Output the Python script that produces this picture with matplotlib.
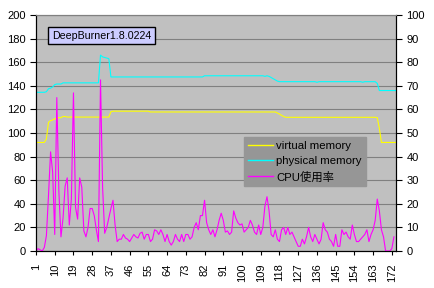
import numpy as np
import matplotlib
matplotlib.use("Agg")
import matplotlib.pyplot as plt
from matplotlib.lines import Line2D

plt.rcParams['font.family'] = ['Liberation Sans', 'Noto Sans CJK JP', 'DejaVu Sans']

# --- data ---
samples = np.arange(1, 175)

# virtual memory (left axis)
virtual_mem = ([92.0] * 5 + [95, 109, 110.5, 111, 112, 112.5, 113, 113, 114, 114]
               + [113.5] * 21 + [118] + [118.5] * 18 + [117.8] * 61
               + [117, 116, 115, 114] + [113.3] * 44 + [113, 104] + [92.0] * 8)

# physical memory (left axis)
physical_mem = ([134.5] * 5 + [135, 137.5, 138, 139, 141, 141.5, 141.5, 141.5]
                + [142.5] * 18 + [166, 164.5, 164, 163.5, 163]
                + [147.5] * 45 + [148.5] * 29 + [148, 148.5]
                + [148, 147, 146, 145, 144, 143.5, 143.5]
                + [143.5] * 16 + [143] + [143.5] * 21 + [143] + [143.5] * 6
                + [142] + [136.0] * 9)

# CPU usage % (right axis)
cpu = [0, 1, 0.5, 0, 1.5, 6.5, 23.5, 42, 33.5, 7, 65, 25, 6, 14, 27.5, 31, 11, 22, 67, 18.5,
       13.5, 31, 27, 8.5, 6, 10, 18, 18, 15, 9, 4, 72.5, 27, 7.5, 10, 14, 18, 21.5, 11, 4,
       5, 5, 7, 5.5, 5, 4, 5.5, 7, 6, 5.5, 7.5, 8, 5, 7, 7, 4, 5, 9, 8.5, 7,
       9, 7, 4, 7, 4, 2.5, 4, 7, 5, 4, 7, 4, 7, 7, 5, 6, 10, 12, 9, 15,
       15, 21.5, 12, 9, 7, 9, 6, 9, 13, 16, 13, 8, 8.5, 7, 8, 17, 14, 12, 11, 11.5,
       8, 9, 10, 13, 11, 8, 7, 11, 7, 10, 19, 23, 17, 7, 6, 9, 5, 4, 9, 10,
       7, 10, 7, 8, 6, 4, 2, 2, 5, 3, 6, 10, 6, 4, 7, 5, 3, 5, 12, 9,
       8, 5, 4, 2, 7, 2, 2, 9, 7, 8, 6, 5, 11, 7, 4, 4, 5, 6, 7, 9,
       4, 7, 9, 13, 22, 17, 9, 6, 0, 0, 0, 1, 6, np.nan]

xticks = list(range(1, 173, 9))

# --- figure ---
fig = plt.figure(figsize=(4.34, 2.88), dpi=100)
ax = fig.add_axes([36 / 434, 1 - 251 / 288, 360 / 434, 236 / 288])
ax.set_facecolor('#C0C0C0')

ax.plot(samples, virtual_mem, color='#FFFF00', lw=0.8)
ax.plot(samples, physical_mem, color='#00FFFF', lw=0.8)
ax.set_ylim(0, 200)
ax.set_yticks(range(0, 201, 20))
ax.set_xlim(1, 174)
ax.set_xticks(xticks)
ax.set_xticklabels([str(t) for t in xticks], rotation=90, fontsize=8)
ax.tick_params(axis='x', length=3, pad=6)
ax.tick_params(axis='y', labelsize=8, length=4, direction='out')
ax.grid(axis='y', color='#808080', lw=0.8)
ax.set_axisbelow(True)
ax.spines['top'].set_color('#808080')

ax2 = ax.twinx()
ax2.plot(samples, cpu, color='#FF00FF', lw=0.8)
ax2.set_ylim(0, 100)
ax2.set_yticks(range(0, 101, 10))
ax2.tick_params(axis='y', labelsize=8, length=4, direction='out')
ax2.spines['top'].set_color('#808080')

ax.text(0.045, 0.913, 'DeepBurner1.8.0224', transform=ax.transAxes, fontsize=7.7,
        va='center', ha='left',
        bbox=dict(boxstyle='square,pad=0.35', fc='#CCCCFF', ec='black', lw=1))

handles = [Line2D([], [], color='#FFFF00', lw=1),
           Line2D([], [], color='#00FFFF', lw=1),
           Line2D([], [], color='#FF00FF', lw=1)]
labels = ['virtual memory', 'physical memory', 'CPU使用率']
leg = ax2.legend(handles, labels, loc='upper left', bbox_to_anchor=(244 / 434, 1 - 137 / 288),
                 bbox_transform=fig.transFigure, fontsize=8.2, frameon=True, fancybox=False,
                 handlelength=2.2, handletextpad=0.3, labelspacing=0.45, borderpad=0.35,
                 borderaxespad=0)
leg.get_frame().set_facecolor('#969696')
leg.get_frame().set_edgecolor('#969696')
leg.get_frame().set_alpha(1)

fig.savefig('out.png', dpi=100)
